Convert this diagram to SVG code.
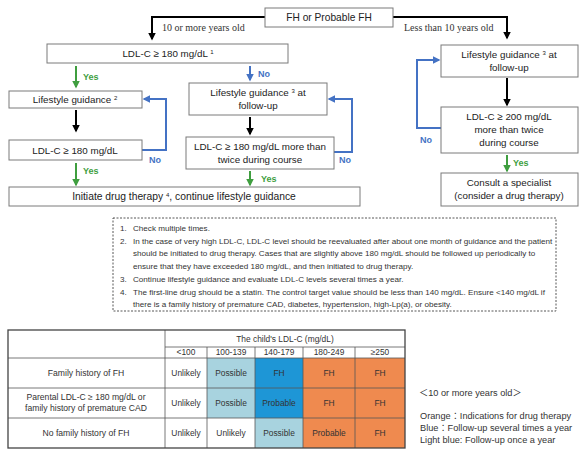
<svg xmlns="http://www.w3.org/2000/svg" width="587" height="464" viewBox="0 0 587 464">
<defs>
<style>
text{font-family:"Liberation Sans",Arial,sans-serif;fill:#222}
.bx{fill:#fff;stroke:#7a7a7a;stroke-width:1}
.t{font-size:9.8px;text-anchor:middle}
.lbl{font-family:"Liberation Serif","Times New Roman",serif;font-size:10px;fill:#333}
.k{fill:none;stroke:#000;stroke-width:2}
.b{fill:none;stroke:#4472c4;stroke-width:2}
.g{fill:none;stroke:#3f9e3f;stroke-width:2}
.yes{font-size:9px;font-weight:bold;fill:#3f9e3f}
.no{font-size:9px;font-weight:bold;fill:#4472c4}
.n{font-size:8.1px;fill:#333}
.c{font-size:8.4px;text-anchor:middle;fill:#333}
.r{font-size:8.6px;text-anchor:middle;fill:#333}
.grid{stroke:#555;stroke-width:0.8;fill:none}
.lg{font-size:9.2px;fill:#333;font-family:"Liberation Sans","Noto Sans CJK JP",sans-serif}
</style>
<marker id="ak" viewBox="0 0 10 10" refX="8" refY="5" markerWidth="3.8" markerHeight="3.8" orient="auto"><path d="M0,0L10,5L0,10z" fill="#000"/></marker>
<marker id="ab" viewBox="0 0 10 10" refX="8" refY="5" markerWidth="3.8" markerHeight="3.8" orient="auto"><path d="M0,0L10,5L0,10z" fill="#4472c4"/></marker>
<marker id="ag" viewBox="0 0 10 10" refX="8" refY="5" markerWidth="3.8" markerHeight="3.8" orient="auto"><path d="M0,0L10,5L0,10z" fill="#3f9e3f"/></marker>
</defs>
<rect width="587" height="464" fill="#fff"/>

<g id="connectors">
<path class="k" d="M265,17H152V39" marker-end="url(#ak)"/>
<path class="k" d="M393,17H507V38" marker-end="url(#ak)"/>
<path class="g" d="M76,66V87" marker-end="url(#ag)"/>
<path class="b" d="M250,66V80" marker-end="url(#ab)"/>
<path class="k" d="M76,110V131" marker-end="url(#ak)"/>
<path class="b" d="M142,150H166V99H144" marker-end="url(#ab)"/>
<path class="g" d="M76,163V185" marker-end="url(#ag)"/>
<path class="k" d="M250,117V134" marker-end="url(#ak)"/>
<path class="b" d="M334,152H352V99H329" marker-end="url(#ab)"/>
<path class="g" d="M250,171V185" marker-end="url(#ag)"/>
<path class="k" d="M507,78V105" marker-end="url(#ak)"/>
<path class="b" d="M441,128H417V60H439" marker-end="url(#ab)"/>
<path class="g" d="M507,155V171" marker-end="url(#ag)"/>
<text class="lbl" x="162" y="31">10 or more years old</text>
<text class="lbl" x="404" y="31">Less than 10 years old</text>
<text class="yes" x="83" y="80">Yes</text>
<text class="no" x="258" y="77">No</text>
<text class="no" x="149" y="163">No</text>
<text class="yes" x="83" y="174">Yes</text>
<text class="no" x="339" y="163">No</text>
<text class="yes" x="261" y="182">Yes</text>
<text class="no" x="420" y="143">No</text>
<text class="yes" x="513" y="166">Yes</text>
</g>

<g id="fh"><rect class="bx" x="265" y="8" width="128" height="19"/><text class="t" x="329" y="21" style="font-size:10.2px">FH or Probable FH</text></g>
<g id="ldl1"><rect class="bx" x="47" y="44" width="241" height="19"/><text class="t" x="168" y="57">LDL-C ≥ 180 mg/dL <tspan font-size="6" dy="-3">1</tspan></text></g>
<g id="lg2"><rect class="bx" x="9" y="91" width="133" height="17"/><text class="t" x="75" y="103">Lifestyle guidance <tspan font-size="6" dy="-3">2</tspan></text></g>
<g id="ldl2"><rect class="bx" x="9" y="140" width="133" height="20"/><text class="t" x="75" y="154">LDL-C ≥ 180 mg/dL</text></g>
<g id="drug"><rect class="bx" x="9" y="187" width="351" height="19"/><text class="t" x="184" y="200" style="font-size:10.3px">Initiate drug therapy <tspan font-size="6" dy="-3">4</tspan><tspan dy="3">, continue lifestyle guidance</tspan></text></g>
<g id="lg3m"><rect class="bx" x="189" y="83" width="138" height="32"/><text class="t" x="258" y="96">Lifestyle guidance <tspan font-size="6" dy="-3">3</tspan><tspan dy="3"> at</tspan></text><text class="t" x="258" y="109">follow-up</text></g>
<g id="ldl3"><rect class="bx" x="186" y="137" width="148" height="32"/><text class="t" x="260" y="150">LDL-C ≥ 180 mg/dL more than</text><text class="t" x="260" y="163">twice during course</text></g>
<g id="lg3r"><rect class="bx" x="441" y="45" width="137" height="32"/><text class="t" x="509" y="58">Lifestyle guidance <tspan font-size="6" dy="-3">3</tspan><tspan dy="3"> at</tspan></text><text class="t" x="509" y="71">follow-up</text></g>
<g id="ldl200"><rect class="bx" x="441" y="107" width="137" height="46"/><text class="t" x="509" y="120">LDL-C ≥ 200 mg/dL</text><text class="t" x="509" y="133">more than twice</text><text class="t" x="509" y="146">during course</text></g>
<g id="consult"><rect class="bx" x="441" y="173" width="137" height="33"/><text class="t" x="509" y="186">Consult a specialist</text><text class="t" x="509" y="199">(consider a drug therapy)</text></g>

<g id="notes">
<rect x="113" y="218" width="443" height="93" fill="none" stroke="#444" stroke-width="0.9" stroke-dasharray="2,1.5"/>
<text class="n" x="120" y="231">1.</text><text class="n" x="133" y="231">Check multiple times.</text>
<text class="n" x="120" y="244">2.</text><text class="n" x="133" y="244">In the case of very high LDL-C, LDL-C level should be reevaluated after about one month of guidance and the patient</text>
<text class="n" x="133" y="256">should be initiated  to drug therapy. Cases that are slightly above 180 mg/dL should be followed up periodically to</text>
<text class="n" x="133" y="269">ensure that they have exceeded 180 mg/dL, and then initiated  to drug therapy.</text>
<text class="n" x="120" y="282">3.</text><text class="n" x="133" y="282">Continue lifestyle guidance and evaluate LDL-C levels several times a year.</text>
<text class="n" x="120" y="295">4.</text><text class="n" x="133" y="295">The first-line drug should be a statin. The control target value should be less than 140 mg/dL. Ensure &lt;140 mg/dL if</text>
<text class="n" x="133" y="307">there is a family history of premature CAD, diabetes, hypertension, high-Lp(a), or obesity.</text>
</g>

<g id="table">
<rect x="207" y="358" width="48" height="60" fill="#a8d3df"/>
<rect x="255" y="358" width="48" height="60" fill="#1e96d6"/>
<rect x="255" y="418" width="48" height="30" fill="#a8d3df"/>
<rect x="303" y="358" width="102" height="90" fill="#ef8a4f"/>
<path class="grid" d="M165,347H405M8,358H405M8,388H405M8,418H405M165,330V448M207,347V448M255,347V448M303,347V448M355,347V448"/>
<rect x="8" y="330" width="397" height="118" fill="none" stroke="#444" stroke-width="1.3"/>
<text class="c" x="285" y="342">The child's LDL-C (mg/dL)</text>
<text class="c" x="186" y="355">&lt;100</text><text class="c" x="231" y="355">100-139</text><text class="c" x="279" y="355">140-179</text><text class="c" x="329" y="355">180-249</text><text class="c" x="380" y="355">≥250</text>
<text class="r" x="86" y="376">Family history of FH</text>
<text class="r" x="86" y="400">Parental LDL-C ≥ 180 mg/dL or</text>
<text class="r" x="86" y="411">family history of premature CAD</text>
<text class="r" x="86" y="436">No family history of FH</text>
<text class="c" x="186" y="376">Unlikely</text><text class="c" x="231" y="376">Possible</text><text class="c" x="279" y="376">FH</text><text class="c" x="329" y="376">FH</text><text class="c" x="380" y="376">FH</text>
<text class="c" x="186" y="406">Unlikely</text><text class="c" x="231" y="406">Possible</text><text class="c" x="279" y="406">Probable</text><text class="c" x="329" y="406">FH</text><text class="c" x="380" y="406">FH</text>
<text class="c" x="186" y="436">Unlikely</text><text class="c" x="231" y="436">Unlikely</text><text class="c" x="279" y="436">Possible</text><text class="c" x="329" y="436">Probable</text><text class="c" x="380" y="436">FH</text>
</g>

<g id="legend">
<text class="lg" x="419" y="396">＜10 or more years old＞</text>
<text class="lg" x="420" y="419">Orange：Indications for drug therapy</text>
<text class="lg" x="420" y="431">Blue：Follow-up several times a year</text>
<text class="lg" x="420" y="443">Light blue: Follow-up once a year</text>
</g>
</svg>
